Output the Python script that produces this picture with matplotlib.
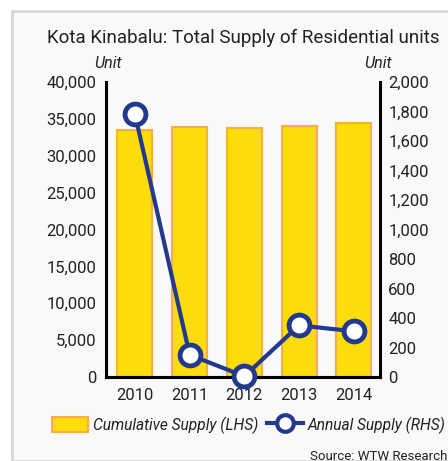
import matplotlib.pyplot as plt
from matplotlib.patches import Rectangle
from matplotlib.lines import Line2D

years = ["2010", "2011", "2012", "2013", "2014"]
cumulative = [33500, 33900, 33750, 34050, 34400]
annual = [1780, 150, 5, 350, 310]

plt.rcParams['font.family'] = ['Roboto', 'DejaVu Sans']

navy = '#233a8c'
gold = '#fcdc0a'
orange = '#f8ae45'
txt = '#222222'

fig = plt.figure(figsize=(4.48, 4.61), dpi=100, facecolor='white')
# light panel with grey frame on left/top
fig.patches.append(Rectangle((12 / 448, 0), 1, 1 - 11 / 461, transform=fig.transFigure,
                             facecolor='#f9f9f9', edgecolor='#d8d8d8', lw=2, zorder=-10))

ax = fig.add_axes([106 / 448, 1 - 377 / 461, (380 - 106) / 448, (377 - 82) / 461])
ax.set_facecolor('none')
x = list(range(len(years)))
ax.bar(x, cumulative, width=0.64, color=gold, edgecolor=orange, linewidth=1.5, zorder=2)
ax.set_ylim(0, 40000)
ax.set_xlim(-0.53, 4.48)
ax.set_yticks(range(0, 40001, 5000))
ax.set_yticklabels([f"{v:,}" for v in range(0, 40001, 5000)])
ax.set_xticks(x)
ax.set_xticklabels(years)
ax.tick_params(length=0, labelsize=12, colors=txt, pad=7)
ax.tick_params(axis='x', pad=8)
for s in ['top', 'right']:
    ax.spines[s].set_visible(False)
for s in ['left', 'bottom']:
    ax.spines[s].set_linewidth(2.2)

ax2 = ax.twinx()
ax2.plot(x, annual, color=navy, lw=3, marker='o', markersize=15,
         markerfacecolor='white', markeredgecolor=navy, markeredgewidth=3.5,
         clip_on=False, zorder=5)
ax2.set_ylim(0, 2000)
ax2.set_yticks(range(0, 2001, 200))
ax2.set_yticklabels([f"{v:,}" for v in range(0, 2001, 200)])
ax2.tick_params(length=0, labelsize=12, colors=txt, pad=6)
for s in ['top', 'left']:
    ax2.spines[s].set_visible(False)
ax2.spines['right'].set_linewidth(2.2)
ax2.spines['bottom'].set_linewidth(2.2)

fig.text(243 / 448, 1 - 38 / 461, "Kota Kinabalu: Total Supply of Residential units",
         ha='center', va='center', fontsize=13.5, color=txt)
fig.text(108 / 448, 1 - 63 / 461, "Unit", ha='center', va='center', fontsize=11.5,
         style='italic', color=txt)
fig.text(378 / 448, 1 - 63 / 461, "Unit", ha='center', va='center', fontsize=11.5,
         style='italic', color=txt)

handles = [Rectangle((0, 0), 1, 1, facecolor=gold, edgecolor=orange, lw=1.5),
           Line2D([], [], color=navy, lw=3, marker='o', markersize=12,
                  markerfacecolor='white', markeredgecolor=navy, markeredgewidth=3)]
leg = fig.legend(handles, ["Cumulative Supply (LHS)", "Annual Supply (RHS)"],
                 loc='center', bbox_to_anchor=(249 / 448, 1 - 425 / 461), ncol=2,
                 frameon=False, prop={'style': 'italic', 'size': 11.2},
                 handlelength=2.3, handleheight=1.2, handletextpad=0.3,
                 columnspacing=0.6, borderpad=0.1)
for t in leg.get_texts():
    t.set_color(txt)

fig.text(447 / 448, 1 - 456 / 461, "Source: WTW Research", ha='right', va='center',
         fontsize=9.5, color=txt)

fig.savefig("out.png", dpi=100, facecolor=fig.get_facecolor())
